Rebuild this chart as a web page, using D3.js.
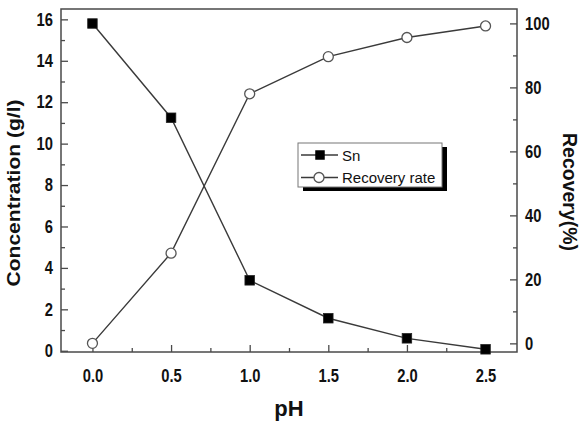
<!DOCTYPE html>
<html>
<head>
<meta charset="utf-8">
<script src="https://cdn.jsdelivr.net/npm/d3@7"></script>
<style>
  html, body { margin: 0; padding: 0; background: #fff; }
  svg { display: block; font-family: "Liberation Sans", Arial, sans-serif; }
</style>
</head>
<body>
<svg id="chart" width="587" height="423"></svg>
<script>
// ---- data ----
const pH = [0.0, 0.5, 1.0, 1.5, 2.0, 2.5];
const snConc = [15.8, 11.25, 3.4, 1.57, 0.6, 0.07];
const recovery = [0, 28.2, 78, 89.6, 95.6, 99.2];
const xTicks = [0.0, 0.5, 1.0, 1.5, 2.0, 2.5];
const xMinor = [0.25, 0.75, 1.25, 1.75, 2.25];
const yLTicks = [0, 2, 4, 6, 8, 10, 12, 14, 16];
const yLMinor = [1, 3, 5, 7, 9, 11, 13, 15];
const yRTicks = [0, 20, 40, 60, 80, 100];
const yRMinor = [10, 30, 50, 70, 90];
const seriesNames = ["Sn", "Recovery rate"];

// ---- layout ----
const L = 61, R = 517, T = 9, B = 352;
const svg = d3.select("#chart");
const frameColor = "#4a4a4a";
const lineColor = "#3a3a3a";

const x = d3.scaleLinear().domain([-0.2, 2.7]).range([L, R]);
const yL = d3.scaleLinear().domain([-0.06, 16.5]).range([B, T]);
const yR = d3.scaleLinear().domain([-2.7, 104.5]).range([B, T]);

const SX = 0.82; // horizontal condensing of tick labels

function styleAxis(g) {
  g.select(".domain").remove();
  g.selectAll(".tick line").attr("stroke", frameColor).attr("stroke-width", 1.3);
  g.selectAll(".tick text")
    .attr("fill", "#111")
    .style("font-size", "18px")
    .style("font-weight", "bold")
    .attr("transform", `scale(${SX},1)`)
    .attr("x", function () { return +d3.select(this).attr("x") / SX; });
}

// bottom axis
svg.append("g").attr("transform", `translate(0,${B})`)
  .call(d3.axisBottom(x).tickValues(xTicks).tickSize(-7).tickPadding(17).tickFormat(d3.format(".1f")))
  .call(styleAxis);
svg.append("g").attr("transform", `translate(0,${B})`)
  .call(d3.axisBottom(x).tickValues(xMinor).tickSize(-4).tickFormat(""))
  .call(styleAxis);

// left axis
svg.append("g").attr("transform", `translate(${L},0)`)
  .call(d3.axisLeft(yL).tickValues(yLTicks).tickSize(-7).tickPadding(8).tickFormat(d3.format("d")))
  .call(styleAxis);
svg.append("g").attr("transform", `translate(${L},0)`)
  .call(d3.axisLeft(yL).tickValues(yLMinor).tickSize(-4).tickFormat(""))
  .call(styleAxis);

// right axis
svg.append("g").attr("transform", `translate(${R},0)`)
  .call(d3.axisRight(yR).tickValues(yRTicks).tickSize(-7).tickPadding(8).tickFormat(d3.format("d")))
  .call(styleAxis);
svg.append("g").attr("transform", `translate(${R},0)`)
  .call(d3.axisRight(yR).tickValues(yRMinor).tickSize(-4).tickFormat(""))
  .call(styleAxis);

// frame
svg.append("rect").attr("x", L).attr("y", T).attr("width", R - L).attr("height", B - T)
  .attr("fill", "none").attr("stroke", frameColor).attr("stroke-width", 1.5);

// lines
const snData = pH.map((p, i) => ({ x: p, y: snConc[i] }));
const recData = pH.map((p, i) => ({ x: p, y: recovery[i] }));

svg.append("path").datum(snData)
  .attr("d", d3.line().x(d => x(d.x)).y(d => yL(d.y)))
  .attr("fill", "none").attr("stroke", lineColor).attr("stroke-width", 1.4);
svg.append("path").datum(recData)
  .attr("d", d3.line().x(d => x(d.x)).y(d => yR(d.y)))
  .attr("fill", "none").attr("stroke", lineColor).attr("stroke-width", 1.4);

// markers
const sq = 9.5;
svg.selectAll("rect.sn").data(snData).enter().append("rect").attr("class", "sn")
  .attr("x", d => x(d.x) - sq / 2).attr("y", d => yL(d.y) - sq / 2)
  .attr("width", sq).attr("height", sq).attr("fill", "#000").attr("stroke", "#222").attr("stroke-width", 0.8);
svg.selectAll("circle.rec").data(recData).enter().append("circle").attr("class", "rec")
  .attr("cx", d => x(d.x)).attr("cy", d => yR(d.y)).attr("r", 5)
  .attr("fill", "#fff").attr("stroke", "#555").attr("stroke-width", 1.3);

// axis titles
svg.append("text")
  .attr("transform", `translate(20,193) rotate(-90)`)
  .attr("text-anchor", "middle")
  .attr("textLength", 187).attr("lengthAdjust", "spacingAndGlyphs")
  .style("font-size", "18px").style("font-weight", "bold").attr("fill", "#111")
  .text("Concentration (g/l)");

svg.append("text")
  .attr("transform", `translate(563,192) rotate(90)`)
  .attr("text-anchor", "middle")
  .attr("textLength", 118).attr("lengthAdjust", "spacingAndGlyphs")
  .style("font-size", "20px").style("font-weight", "bold").attr("fill", "#111")
  .text("Recovery(%)");

svg.append("text")
  .attr("x", (L + R) / 2).attr("y", 416)
  .attr("text-anchor", "middle")
  .style("font-size", "22px").style("font-weight", "bold").attr("fill", "#111")
  .text("pH");

// legend
const lg = svg.append("g").attr("transform", "translate(298,143)");
const lgW = 144, lgH = 44;
lg.append("rect").attr("x", 5).attr("y", 4).attr("width", lgW).attr("height", lgH).attr("fill", "#000");
lg.append("rect").attr("x", 0).attr("y", 0).attr("width", lgW).attr("height", lgH)
  .attr("fill", "#fff").attr("stroke", "#777").attr("stroke-width", 1);
const rows = lg.selectAll("g.row").data(seriesNames).enter().append("g")
  .attr("transform", (d, i) => `translate(0,${12 + i * 22.5})`);
rows.append("line").attr("x1", 3).attr("x2", 40).attr("y1", 0).attr("y2", 0)
  .attr("stroke", lineColor).attr("stroke-width", 1.4);
rows.each(function (d, i) {
  const g = d3.select(this);
  if (i === 0) {
    g.append("rect").attr("x", 22 - sq / 2).attr("y", -sq / 2).attr("width", sq).attr("height", sq)
      .attr("fill", "#000");
  } else {
    g.append("circle").attr("cx", 21).attr("cy", 0).attr("r", 5)
      .attr("fill", "#fff").attr("stroke", "#555").attr("stroke-width", 1.3);
  }
});
rows.append("text").attr("x", 44).attr("y", 5.5)
  .style("font-size", "15px").attr("fill", "#111")
  .text(d => d);
</script>
</body>
</html>
